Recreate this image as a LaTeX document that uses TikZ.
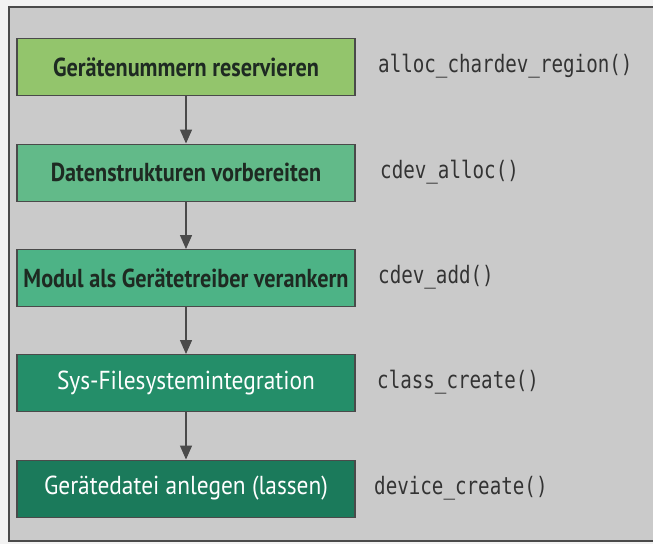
\documentclass[tikz,border=0pt]{standalone}
\usepackage{fontspec}
\usetikzlibrary{arrows.meta}
\newfontfamily\boxfont[FakeStretch=0.9]{PT Sans}
\newfontfamily\boxboldfont[FakeStretch=0.855]{PT Sans Bold}
\newfontfamily\codefont[FakeStretch=0.8]{DejaVu Sans Mono}
\definecolor{bgout}{HTML}{F2F2F2}
\definecolor{bgin}{HTML}{CACACA}
\definecolor{frameC}{HTML}{4A4A4A}
\definecolor{cA}{HTML}{93C56C}
\definecolor{cB}{HTML}{62BA89}
\definecolor{cC}{HTML}{4DB386}
\definecolor{cD}{HTML}{248E69}
\definecolor{cE}{HTML}{1B7A5B}
\definecolor{txtdark}{HTML}{1E2A22}
\definecolor{codeC}{HTML}{333333}
\tikzset{
  stepbox/.style={draw=frameC, line width=1.1pt, minimum width=338pt, minimum height=57pt,
    inner sep=0pt, font=\boxfont\fontsize{26}{30}\selectfont, anchor=north},
  darktxt/.style={text=txtdark, font=\boxboldfont\fontsize{26}{30}\selectfont},
  lighttxt/.style={text=white},
  code/.style={anchor=west, text=codeC, font=\codefont\fontsize{24}{28}\selectfont, inner sep=0pt},
  flow/.style={draw=frameC, line width=1.4pt, -{Triangle[width=12pt,length=14pt]}},
}
\begin{document}
\begin{tikzpicture}[x=1pt,y=-1pt]
\fill[bgout] (0,0) rectangle (653,544);
\useasboundingbox (0,0) rectangle (653,544);
\fill[bgin] (9,7) rectangle (653,541);
\draw[frameC, line width=1.1pt] (660,7) -- (9,7) -- (9,541) -- (660,541);
\node[stepbox, fill=cA, darktxt] (s1) at (186,38) {Gerätenummern reservieren};
\node[stepbox, fill=cB, darktxt] (s2) at (186,143.5) {Datenstrukturen vorbereiten};
\node[stepbox, fill=cC, darktxt] (s3) at (186,249) {Modul als Gerätetreiber verankern};
\node[stepbox, fill=cD, lighttxt] (s4) at (186,354) {Sys-Filesystemintegration};
\node[stepbox, fill=cE, lighttxt] (s5) at (186,459.5) {Gerätedatei anlegen (lassen)};
\node[code] (c1) at (378,66.5) {alloc\_chardev\_region()};
\node[code] (c2) at (380,172) {cdev\_alloc()};
\node[code] (c3) at (378,277.5) {cdev\_add()};
\node[code] (c4) at (377,382.5) {class\_create()};
\node[code] (c5) at (374,488) {device\_create()};
\draw[flow] (s1.south) -- (s2.north);
\draw[flow] (s2.south) -- (s3.north);
\draw[flow] (s3.south) -- (s4.north);
\draw[flow] (s4.south) -- (s5.north);
\end{tikzpicture}
\end{document}
